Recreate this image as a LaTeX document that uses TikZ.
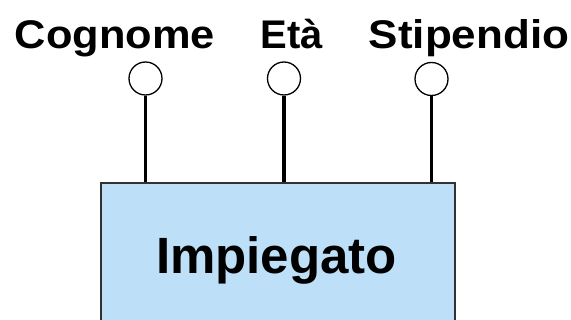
\documentclass[tikz,border=0pt]{standalone}
\usepackage{fontspec}
\usepackage{graphicx}
\setmainfont{Liberation Sans}
\definecolor{entfill}{RGB}{189,224,248}
\definecolor{entdraw}{RGB}{50,50,50}
\newcommand{\wideword}[2]{\scalebox{#1}[1]{#2}}
\begin{document}
\begin{tikzpicture}[x=1pt,y=-1pt,
  lbl/.style={anchor=base,inner sep=0pt,font=\bfseries\fontsize{40}{43}\selectfont},
  attr/.style={circle,draw=black,line width=1.3pt,fill=white,minimum size=33pt,inner sep=0pt},
  link/.style={line width=3.6pt},
  entity/.style={draw=entdraw,fill=entfill,line width=1.4pt,rectangle,inner sep=0pt,minimum width=354pt,minimum height=160pt}]
\useasboundingbox (0,0) rectangle (571,320);
\clip (0,0) rectangle (571,320);
\node[entity] (ent) at (278,263) {};
\node[anchor=base,inner sep=0pt,font=\bfseries\fontsize{51}{54}\selectfont] (entlbl) at (276.5,274) {Impiegato};
\node[lbl] (l1) at (115,49) {\wideword{1.085}{Cognome}};
\node[lbl] (l2) at (292,49) {Età};
\node[lbl] (l3) at (469,49) {\wideword{1.1}{Stipendio}};
\node[attr] (a1) at (145.5,78.5) {};
\node[attr] (a2) at (284,78.5) {};
\node[attr] (a3) at (431.5,79) {};
\draw[link] (a1.south) -- (a1.south |- ent.north);
\draw[link] (a2.south) -- (a2.south |- ent.north);
\draw[link] (a3.south) -- (a3.south |- ent.north);
\end{tikzpicture}
\end{document}
